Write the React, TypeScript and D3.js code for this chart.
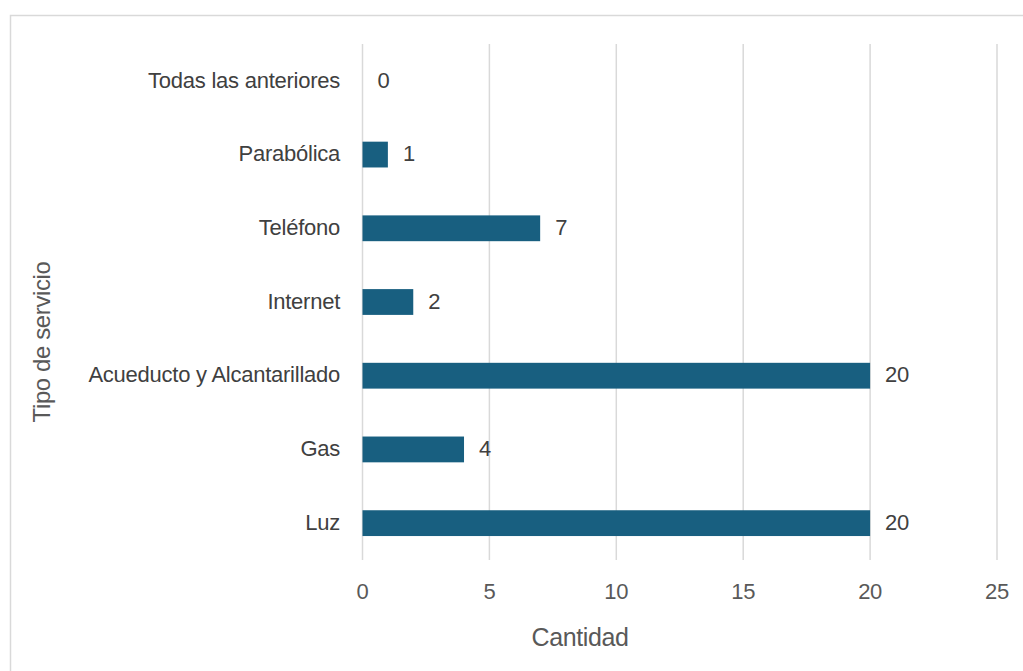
import React from "react";
import * as d3 from "d3";

const categories = ["Todas las anteriores", "Parabólica", "Teléfono", "Internet", "Acueducto y Alcantarillado", "Gas", "Luz"];
const values = [0, 1, 7, 2, 20, 4, 20];
const xTicks = [0, 5, 10, 15, 20, 25];

export default function App() {
  const W = 1023, H = 671;
  const x = d3.scaleLinear().domain([0, 25]).range([362.5, 997]);
  const y = d3.scaleBand<string>().domain(categories).range([44, 560]).paddingInner(0.65).paddingOuter(0.325);
  const font = "Liberation Sans, Arial, sans-serif";
  return (
    <svg width={W} height={H} style={{ position: "absolute", left: 0, top: 0, background: "#fff" }} fontFamily={font}>
      <rect x={10.5} y={15.5} width={1100} height={800} fill="#fff" stroke="#d9d9d9" strokeWidth={1.5} />
      {xTicks.map((t) => (
        <line key={"g" + t} x1={x(t)} x2={x(t)} y1={44} y2={560} stroke="#d9d9d9" strokeWidth={1.5} />
      ))}
      {categories.map((c, i) => (
        <rect key={"b" + c} x={x(0)} y={y(c)!} width={x(values[i]) - x(0)} height={y.bandwidth()} fill="#185f80" />
      ))}
      {categories.map((c) => (
        <text key={"l" + c} x={340} y={y(c)! + y.bandwidth() / 2 - 1} dy="0.35em" textAnchor="end" fontSize={22} letterSpacing={-0.25} fill="#404040">{c}</text>
      ))}
      {categories.map((c, i) => (
        <text key={"v" + c} x={x(values[i]) + 15} y={y(c)! + y.bandwidth() / 2 - 1} dy="0.35em" fontSize={22} letterSpacing={-0.3} fill="#404040">{values[i]}</text>
      ))}
      {xTicks.map((t) => (
        <text key={"t" + t} x={x(t)} y={591} dy="0.35em" textAnchor="middle" fontSize={22} letterSpacing={-0.3} fill="#595959">{t}</text>
      ))}
      <text x={580} y={637} dy="0.35em" textAnchor="middle" fontSize={25} letterSpacing={-0.4} fill="#595959">Cantidad</text>
      <text transform="translate(42,342) rotate(-90)" dy="0.35em" textAnchor="middle" fontSize={24} letterSpacing={-0.4} fill="#595959">Tipo de servicio</text>
    </svg>
  );
}
